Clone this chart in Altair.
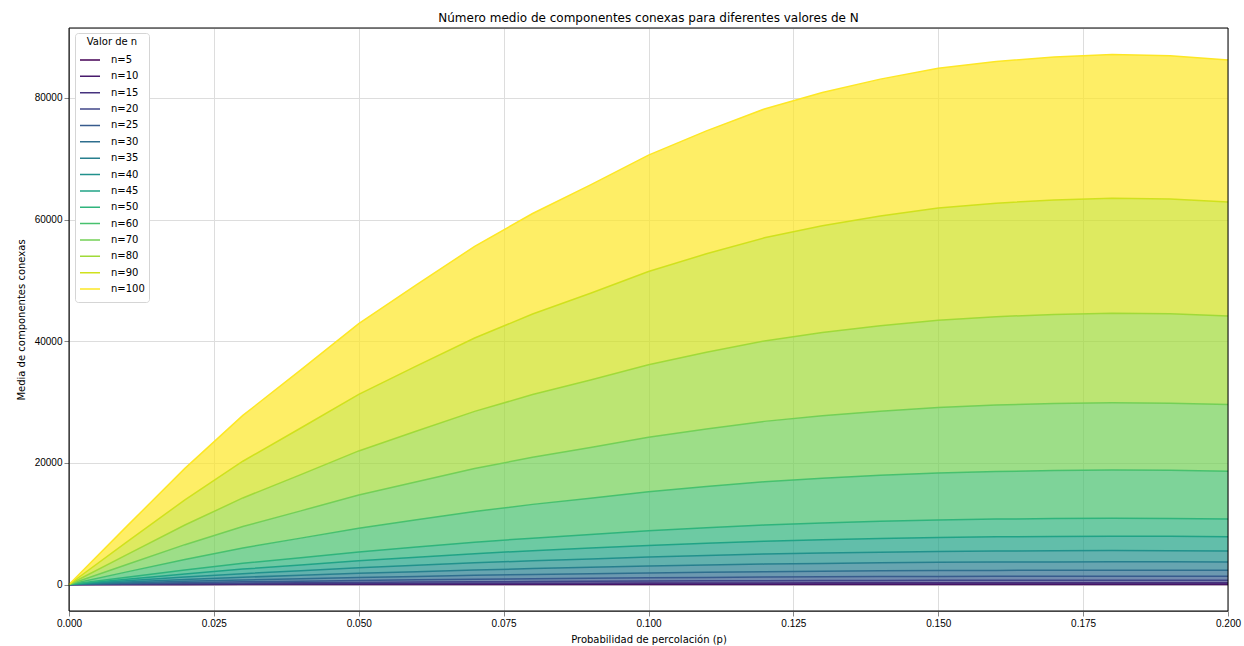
import altair as alt
import pandas as pd

# Probabilidad de percolación (eje x)
p = [0.00, 0.01, 0.02, 0.03, 0.04, 0.05, 0.06, 0.07, 0.08, 0.09, 0.10,
     0.11, 0.12, 0.13, 0.14, 0.15, 0.16, 0.17, 0.18, 0.19, 0.20]

n_values = [5, 10, 15, 20, 25, 30, 35, 40, 45, 50, 60, 70, 80, 90, 100]

colors = ["#440154", "#481a6c", "#46327e", "#404688", "#375b8d", "#2e6e8e",
          "#277f8e", "#21918c", "#20a386", "#2fb47c", "#47c16e", "#73d056",
          "#a0da38", "#d0e11c", "#fde725"]

m5 = [0, 1.2, 2.4, 3.5, 4.4, 5.4, 6.2, 7.0, 7.6, 8.2, 8.8, 9.3, 9.8, 10.1, 10.4, 10.6, 10.8, 10.8, 10.9, 10.9, 10.8]
m10 = [0, 10, 19, 28, 35, 43, 49, 56, 61, 66, 71, 75, 78, 81, 83, 85, 86, 87, 87, 87, 86]
m15 = [0, 32, 64, 94, 119, 145, 166, 188, 206, 222, 238, 252, 264, 273, 280, 287, 290, 293, 294, 293, 291]
m20 = [0, 77, 153, 222, 282, 343, 394, 445, 488, 526, 565, 597, 626, 647, 665, 679, 688, 694, 697, 696, 690]
m25 = [0, 150, 298, 434, 552, 670, 770, 869, 953, 1027, 1103, 1166, 1222, 1264, 1298, 1327, 1344, 1355, 1362, 1359, 1348]
m30 = [0, 259, 516, 751, 953, 1158, 1331, 1501, 1647, 1774, 1906, 2014, 2111, 2184, 2244, 2292, 2322, 2342, 2353, 2348, 2329]
m35 = [0, 412, 819, 1192, 1513, 1839, 2114, 2384, 2615, 2817, 3027, 3198, 3353, 3469, 3563, 3640, 3687, 3719, 3737, 3728, 3698]
m40 = [0, 614, 1222, 1779, 2259, 2746, 3155, 3558, 3904, 4205, 4518, 4774, 5005, 5178, 5318, 5434, 5504, 5552, 5578, 5565, 5520]
m45 = [0, 875, 1740, 2533, 3217, 3909, 4492, 5067, 5559, 5987, 6433, 6798, 7126, 7372, 7572, 7737, 7837, 7905, 7942, 7923, 7860]
m50 = [0, 1200, 2388, 3475, 4413, 5363, 6163, 6950, 7625, 8213, 8825, 9325, 9775, 10113, 10388, 10613, 10750, 10844, 10894, 10869, 10781]
m60 = [0, 2074, 4126, 6005, 7625, 9266, 10649, 12010, 13176, 14191, 15250, 16114, 16891, 17474, 17950, 18338, 18576, 18738, 18824, 18781, 18630]
m70 = [0, 3293, 6551, 9535, 12108, 14715, 16910, 19071, 20923, 22535, 24216, 25588, 26823, 27749, 28503, 29121, 29498, 29755, 29892, 29824, 29584]
m80 = [0, 4915, 9779, 14234, 18074, 21965, 25242, 28467, 31232, 33638, 36147, 38195, 40038, 41421, 42547, 43469, 44032, 44416, 44621, 44518, 44160]
m90 = [0, 7000, 13920, 20270, 25730, 31270, 35940, 40530, 44470, 47900, 51470, 54380, 57010, 58980, 60580, 61890, 62690, 63240, 63530, 63390, 62880]
m100 = [0, 9600, 19100, 27800, 35300, 42900, 49300, 55600, 61000, 65700, 70600, 74600, 78200, 80900, 83100, 84900, 86000, 86750, 87150, 86950, 86250]

series = [m5, m10, m15, m20, m25, m30, m35, m40, m45, m50, m60, m70, m80, m90, m100]
labels = [f"n={n}" for n in n_values]

rows = []
prev = [0] * len(p)
for idx, (lab, vals) in enumerate(zip(labels, series)):
    for x, v, lo in zip(p, vals, prev):
        rows.append({"p": x, "media": v, "lower": lo, "serie": lab, "idx": idx})
    prev = vals
df = pd.DataFrame(rows)

FONT = "DejaVu Sans"
W, H = 1159, 583

xscale = alt.Scale(domain=[0, 0.2], nice=False, zero=False)
yscale = alt.Scale(domain=[-4357.5, 91507.5], nice=False, zero=False)

xaxis = alt.Axis(values=[0, 0.025, 0.05, 0.075, 0.1, 0.125, 0.15, 0.175, 0.2],
                 format=".3f", labelFlush=False, labelOverlap=False,
                 title="Probabilidad de percolación (p)", titlePadding=6,
                 titleFontWeight="normal", titleFont=FONT, titleFontSize=10)
yaxis = alt.Axis(values=[0, 20000, 40000, 60000, 80000], format="d",
                 labelOverlap=False, title="Media de componentes conexas",
                 titlePadding=8, titleFontWeight="normal", titleFont=FONT,
                 titleFontSize=10)

base = alt.Chart(df)

area = base.mark_area(opacity=0.7, interpolate="linear", strokeWidth=0).encode(
    x=alt.X("p:Q", scale=xscale, axis=xaxis),
    y=alt.Y("media:Q", scale=yscale, axis=yaxis),
    y2=alt.Y2("lower:Q"),
    fill=alt.Fill("idx:O", scale=alt.Scale(domain=list(range(len(labels))), range=colors),
                  legend=None),
    detail="serie:N",
)

line = base.mark_line(strokeWidth=1.5).encode(
    x=alt.X("p:Q", scale=xscale),
    y=alt.Y("media:Q", scale=yscale),
    stroke=alt.Stroke(
        "serie:N", scale=alt.Scale(domain=labels, range=colors),
        legend=alt.Legend(
            title="Valor de n", orient="none", legendX=6, legendY=5,
            symbolType="stroke", symbolSize=400, symbolStrokeWidth=1.5,
            labelFontSize=10, titleFontSize=10, titleFontWeight="normal",
            titleAnchor="middle", labelOffset=10, padding=4,
            fillColor="white", strokeColor="#d5d5d5", cornerRadius=3,
            clipHeight=16, rowPadding=0.36, labelFont=FONT, titleFont=FONT,
            labelColor="black", titleColor="black", titlePadding=5,
        ),
    ),
)

frame = alt.Chart(pd.DataFrame({"k": [0]})).mark_rect(
    fillOpacity=0, stroke="black", strokeWidth=1
).encode(
    x=alt.value(0), x2=alt.value(W), y=alt.value(0), y2=alt.value(H)
)

chart = alt.layer(area, line, frame).properties(
    width=W, height=H,
    title=alt.Title("Número medio de componentes conexas para diferentes valores de N",
                    fontSize=12, font=FONT, fontWeight="normal", color="black",
                    anchor="middle", offset=3),
    autosize=alt.AutoSizeParams(type="none"),
    padding={"left": 69, "top": 28, "right": 16, "bottom": 35},
).configure_view(
    stroke=None
).configure_axis(
    labelFont=FONT, titleFont=FONT, labelFontSize=10, titleFontSize=10,
    titleFontWeight="normal", labelColor="black", titleColor="black",
    tickColor="black", tickSize=3.5, tickWidth=0.8, labelPadding=3.5,
    domain=False, grid=True, gridColor="#b0b0b0", gridWidth=1, gridOpacity=1,
).configure(background="white")

chart.save("out.html", embed_options={"renderer": "svg", "actions": False})
